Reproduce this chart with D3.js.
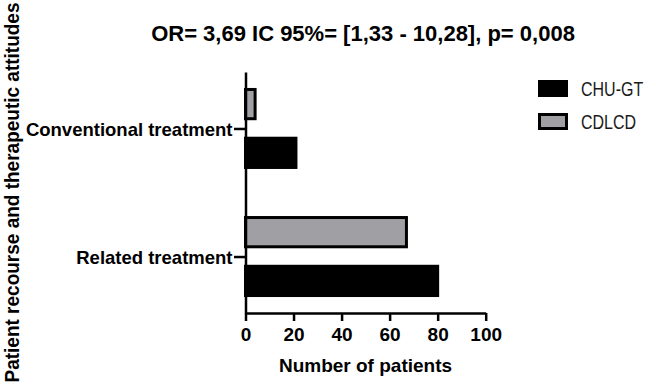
<!DOCTYPE html>
<html>
<head>
<meta charset="utf-8">
<script src="https://cdn.jsdelivr.net/npm/d3@7"></script>
<style>
  body { margin: 0; background: #fff; }
  text { font-family: "Liberation Sans", Arial, sans-serif; }
</style>
</head>
<body>
<svg id="chart"></svg>
<script>
var width = 656;
var height = 385;

// data
var categories = ["Conventional treatment", "Related treatment"];
var series = ["CDLCD", "CHU-GT"];
var chuGT = [21, 80];
var cdlcd = [4, 67];
var xTicks = [0, 20, 40, 60, 80, 100];
var legendOrder = ["CHU-GT", "CDLCD"];

var colors = { "CHU-GT": "#000000", "CDLCD": "#a0a0a4" };

var rows = [];
categories.forEach(function(c, i) {
  rows.push({ cat: c, s: "CDLCD", v: cdlcd[i] });
  rows.push({ cat: c, s: "CHU-GT", v: chuGT[i] });
});

var svg = d3.select("#chart")
  .attr("width", width)
  .attr("height", height);

var x = d3.scaleLinear()
  .domain([0, 100])
  .range([245.5, 485.7]);

var y = d3.scalePoint()
  .domain(categories)
  .range([72, 313])
  .padding(0.441);

var inner = d3.scaleBand()
  .domain(series)
  .range([-39, 39])
  .paddingInner(0.4);

// bars
svg.append("g").selectAll("rect")
  .data(rows)
  .enter().append("rect")
    .attr("x", x(0))
    .attr("y", function(d) { return y(d.cat) + inner(d.s); })
    .attr("width", function(d) { return x(d.v) - x(0); })
    .attr("height", inner.bandwidth())
    .attr("fill", function(d) { return colors[d.s]; })
    .attr("stroke", "#000")
    .attr("stroke-width", 3);

// x axis
var xAxis = svg.append("g")
  .attr("transform", "translate(0," + 313 + ")")
  .call(d3.axisBottom(x).tickValues(xTicks).tickSize(8).tickSizeOuter(0).tickPadding(6.5));

xAxis.selectAll("text")
  .attr("font-size", 19)
  .attr("font-weight", "bold")
  .attr("fill", "#000")
  .style("font-family", "'Liberation Sans', Arial, sans-serif");

// y axis
var yAxis = svg.append("g")
  .attr("transform", "translate(" + x(0) + ",0)")
  .call(d3.axisLeft(y).tickSize(11.5).tickSizeOuter(0).tickPadding(1.5));

yAxis.selectAll("text")
  .attr("font-size", 18.5)
  .attr("font-weight", "bold")
  .attr("dy", "0.38em")
  .attr("fill", "#000")
  .style("font-family", "'Liberation Sans', Arial, sans-serif");

svg.selectAll(".domain, .tick line")
  .attr("stroke", "#000")
  .attr("stroke-width", 2.5);

// titles
svg.append("text")
  .attr("x", 363)
  .attr("y", 41)
  .attr("text-anchor", "middle")
  .attr("font-size", 22)
  .attr("font-weight", "bold")
  .text("OR= 3,69 IC 95%= [1,33 - 10,28], p= 0,008");

svg.append("text")
  .attr("x", 365.5)
  .attr("y", 372)
  .attr("text-anchor", "middle")
  .attr("font-size", 19)
  .attr("font-weight", "bold")
  .text("Number of patients");

// narrow, so squeezed a bit
svg.append("text")
  .attr("transform", "translate(18.5,192.5) rotate(-90) scale(0.95,1)")
  .attr("text-anchor", "middle")
  .attr("font-size", 20)
  .attr("font-weight", "bold")
  .text("Patient recourse and therapeutic attitudes");

// legend
var legend = svg.append("g").selectAll("g")
  .data(legendOrder)
  .enter().append("g")
    .attr("transform", function(d, i) { return "translate(539.5," + (81.5 + i * 33) + ")"; });

legend.append("rect")
  .attr("width", 27)
  .attr("height", 14)
  .attr("fill", function(d) { return colors[d]; })
  .attr("stroke", "#000")
  .attr("stroke-width", 3);

legend.append("text")
  .attr("transform", "translate(41.5,14.5) scale(0.8,1)")
  .attr("font-size", 20)
  .attr("fill", "#1a1a1a")
  .text(function(d) { return d; });
</script>
</body>
</html>
